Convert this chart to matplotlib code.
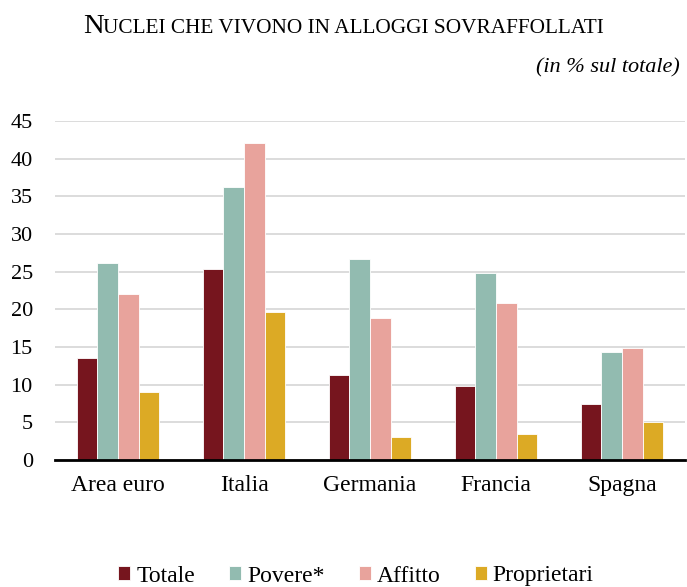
import numpy as np
import matplotlib
matplotlib.use('Agg')
import matplotlib.pyplot as plt

plt.rcParams['font.family'] = ['Liberation Serif', 'DejaVu Serif']

# data
countries = ['Area euro', 'Italia', 'Germania', 'Francia', 'Spagna']
series_names = ['Totale', 'Povere*', 'Affitto', 'Proprietari']
totale = [13.5, 25.3, 11.3, 9.8, 7.5]
povere = [26.1, 36.2, 26.7, 24.8, 14.4]
affitto = [22.1, 42.1, 18.8, 20.8, 14.9]
proprietari = [9.0, 19.7, 3.1, 3.5, 5.1]
colors = ['#76151e', '#92bbb0', '#e8a39c', '#dcaa25']

W, H = 687, 587
fig = plt.figure(figsize=(W / 100, H / 100), dpi=100)
ax = fig.add_axes([55 / W, (H - 460) / H, 630 / W, 339 / H])

x = np.arange(len(countries))
bw = 0.163
for i, (vals, name) in enumerate(zip([totale, povere, affitto, proprietari], series_names)):
    ax.bar(x + (i - 1.5) * bw, vals, bw, color=colors[i], label=name,
           edgecolor='white', linewidth=0.6, zorder=3)

ax.set_xlim(-0.5, len(countries) - 0.5)
ax.set_ylim(0, 45)
ax.set_yticks(range(0, 50, 5))
ax.set_xticks(x)
ax.set_xticklabels(countries)
ax.tick_params(axis='y', length=0, pad=16, labelsize=16)
ax.tick_params(axis='x', length=0, pad=11, labelsize=17)
ax.yaxis.grid(True, color='#d9d9d9', linewidth=1.3)
ax.set_axisbelow(True)
for s in ['top', 'right', 'left']:
    ax.spines[s].set_visible(False)
ax.spines['bottom'].set_linewidth(2)
ax.spines['bottom'].set_color('black')
ax.spines['bottom'].set_zorder(4)

# title in small caps (big first letter + smaller capitals)
yb = (H - 33) / H
t1 = fig.text(0, yb, 'N', fontsize=20.5, va='baseline', ha='left')
t2 = fig.text(0, yb, 'UCLEI CHE VIVONO IN ALLOGGI SOVRAFFOLLATI', fontsize=15.3,
              va='baseline', ha='left')
renderer = fig.canvas.get_renderer()
w1 = t1.get_window_extent(renderer).width
w2 = t2.get_window_extent(renderer).width
x0 = (W - w1 - w2) / 2
t1.set_x(x0 / W)
t2.set_x((x0 + w1) / W)

fig.text(680 / W, (H - 72) / H, '(in % sul totale)', style='italic',
         fontsize=16, ha='right', va='baseline')

fig.legend(loc='center', bbox_to_anchor=(356 / W, 11 / H), ncol=4, frameon=False,
           fontsize=17, handlelength=0.51, handleheight=0.51, handletextpad=0.25,
           columnspacing=1.45, borderpad=0)

fig.savefig('out.png', dpi=100)
